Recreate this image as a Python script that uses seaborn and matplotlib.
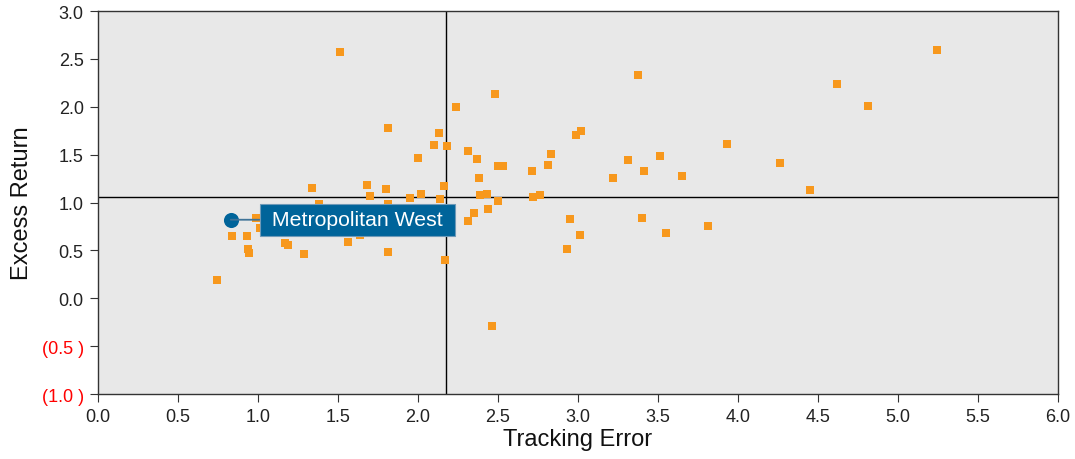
import matplotlib
matplotlib.use("Agg")
import matplotlib.pyplot as plt
import seaborn as sns
import pandas as pd
from matplotlib.ticker import FuncFormatter

tracking_error = [
    2.24, 1.81, 2.13, 2.10, 2.18, 2.31, 2.37, 2.00, 2.38, 1.34,
    1.68, 1.80, 2.16, 1.70, 1.95, 2.02, 2.14, 2.385, 2.43, 2.435,
    2.35, 2.31, 1.38, 1.81, 0.985, 1.01, 0.84, 0.93, 0.94, 0.945,
    1.17, 1.19, 1.29, 1.56, 1.64, 1.81, 2.17, 0.745, 1.51,
    3.377, 2.48, 3.02, 2.99, 3.93, 2.83, 2.81, 3.31, 3.51, 2.50,
    2.53, 2.71, 3.41, 3.65, 3.22, 2.72, 2.76, 2.50, 2.95, 3.40,
    3.01, 3.55, 3.81, 2.93, 2.46, 5.245, 4.62, 4.81, 4.26, 4.45,
]
excess_return = [
    2.00, 1.78, 1.73, 1.60, 1.59, 1.54, 1.45, 1.46, 1.255, 1.15,
    1.18, 1.14, 1.17, 1.07, 1.05, 1.09, 1.04, 1.08, 1.09, 0.93,
    0.89, 0.81, 0.98, 0.98, 0.84, 0.73, 0.65, 0.65, 0.51, 0.47,
    0.58, 0.56, 0.46, 0.59, 0.66, 0.48, 0.40, 0.19, 2.57,
    2.33, 2.13, 1.75, 1.71, 1.61, 1.51, 1.39, 1.44, 1.485, 1.38,
    1.38, 1.33, 1.33, 1.28, 1.255, 1.06, 1.08, 1.015, 0.83, 0.84,
    0.66, 0.68, 0.755, 0.51, -0.29, 2.59, 2.24, 2.01, 1.41, 1.13,
]
highlight_name = "Metropolitan West"
highlight_te = [0.83]
highlight_er = [0.82]
mean_te = 2.175
mean_er = 1.06

x_ticks = [0.0, 0.5, 1.0, 1.5, 2.0, 2.5, 3.0, 3.5, 4.0, 4.5, 5.0, 5.5, 6.0]
y_ticks = [-1.0, -0.5, 0.0, 0.5, 1.0, 1.5, 2.0, 2.5, 3.0]

ORANGE = "#F7981D"
BLUE = "#00649A"

sns.set_theme(style="ticks")
plt.rcParams["font.family"] = ["Liberation Sans", "DejaVu Sans"]

df = pd.DataFrame({"te": tracking_error, "er": excess_return})
hl = pd.DataFrame({"te": highlight_te, "er": highlight_er})

fig = plt.figure(figsize=(10.75, 4.6), dpi=100)
ax = fig.add_axes([98 / 1075, 1 - 395 / 460, (1058 - 98) / 1075, (395 - 12) / 460])
ax.set_facecolor("#E8E8E8")

ax.axvline(mean_te, color="black", lw=1.0, zorder=1)
ax.axhline(mean_er, color="black", lw=1.0, zorder=1)

sns.scatterplot(data=df, x="te", y="er", marker="s", s=28, color=ORANGE,
                linewidth=0, ax=ax, zorder=3)
sns.scatterplot(data=hl, x="te", y="er", marker="o", s=118, color=BLUE,
                linewidth=0, ax=ax, zorder=5)

ax.annotate(" " + highlight_name + " ", xy=(highlight_te[0], highlight_er[0]),
            xytext=(25.5, 0), textcoords="offset points",
            ha="left", va="center", color="white", fontsize=15.3,
            bbox=dict(boxstyle="square,pad=0.3", fc=BLUE, ec="#6F9AB8", lw=0.8),
            arrowprops=dict(arrowstyle="-", color="#3F7398", lw=1.3,
                            shrinkA=0, shrinkB=0),
            zorder=6)

ax.set_xlim(0, 6)
ax.set_ylim(-1, 3)
ax.set_xticks(x_ticks)
ax.set_yticks(y_ticks)


def fmt(v, pos):
    if v < 0:
        return "({:.1f} )".format(abs(v))
    return "{:.1f}".format(v)


ax.yaxis.set_major_formatter(FuncFormatter(fmt))
ax.xaxis.set_major_formatter(FuncFormatter(lambda v, p: "{:.1f}".format(v)))

ax.tick_params(axis="both", labelsize=13, length=5.8, width=0.8,
               color="#333333", labelcolor="#222222", pad=4.5)
for lab, val in zip(ax.get_yticklabels(), y_ticks):
    if val < 0:
        lab.set_color("red")

for sp in ax.spines.values():
    sp.set_visible(True)
    sp.set_color("#333333")
    sp.set_linewidth(1.0)

ax.set_xlabel("Tracking Error", fontsize=17, color="#111111", labelpad=2)
ax.set_ylabel("Excess Return", fontsize=17, color="#111111", labelpad=6)

fig.savefig("out.png", dpi=100)
